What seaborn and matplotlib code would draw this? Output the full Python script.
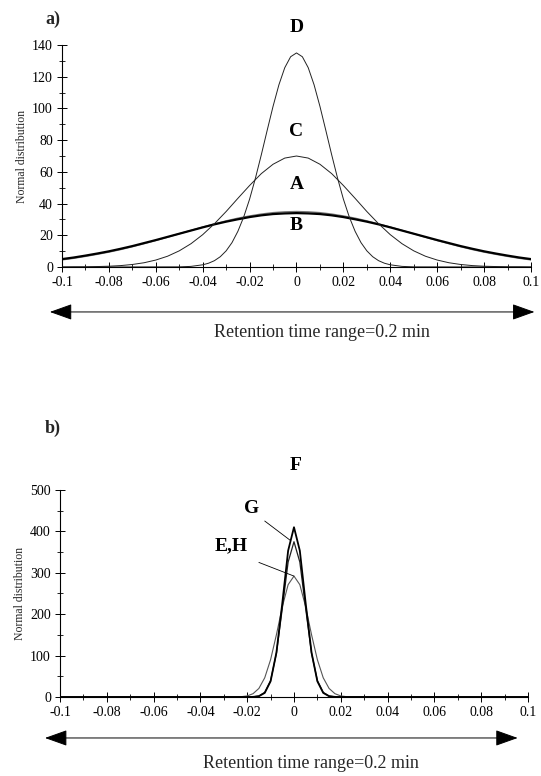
import numpy as np
import pandas as pd
import matplotlib
matplotlib.use("Agg")
import matplotlib.pyplot as plt
from matplotlib.patches import FancyArrowPatch
from matplotlib.ticker import MultipleLocator
import seaborn as sns

# ---------------- data ----------------
# panel a: shared time grid (min) for A, B, C
t_a = [-0.1, -0.095, -0.09, -0.085, -0.08, -0.075, -0.07, -0.065, -0.06, -0.055,
       -0.05, -0.045, -0.04, -0.035, -0.03, -0.025, -0.02, -0.015, -0.01, -0.005,
       0.0, 0.005, 0.01, 0.015, 0.02, 0.025, 0.03, 0.035, 0.04, 0.045,
       0.05, 0.055, 0.06, 0.065, 0.07, 0.075, 0.08, 0.085, 0.09, 0.095, 0.1]
curve_A = [4.5, 5.5, 6.7, 8.0, 9.4, 11.0, 12.8, 14.7, 16.7, 18.8,
           21.0, 23.1, 25.2, 27.2, 29.1, 30.8, 32.2, 33.4, 34.3, 34.8,
           35.0, 34.8, 34.3, 33.4, 32.2, 30.8, 29.1, 27.2, 25.2, 23.1,
           21.0, 18.8, 16.7, 14.7, 12.8, 11.0, 9.4, 8.0, 6.7, 5.5, 4.5]
curve_B = [5.0, 6.0, 7.2, 8.5, 9.9, 11.5, 13.2, 15.1, 17.0, 19.0,
           21.0, 23.0, 25.0, 26.9, 28.6, 30.1, 31.5, 32.6, 33.4, 33.8,
           34.0, 33.8, 33.4, 32.6, 31.5, 30.1, 28.6, 26.9, 25.0, 23.0,
           21.0, 19.0, 17.0, 15.1, 13.2, 11.5, 9.9, 8.5, 7.2, 6.0, 5.0]
curve_C = [0.0, 0.1, 0.1, 0.3, 0.5, 0.9, 1.6, 2.7, 4.4, 6.8,
           10.2, 14.7, 20.4, 27.3, 35.0, 43.3, 51.4, 58.9, 64.8, 68.7,
           70.0, 68.7, 64.8, 58.9, 51.4, 43.3, 35.0, 27.3, 20.4, 14.7,
           10.2, 6.8, 4.4, 2.7, 1.6, 0.9, 0.5, 0.3, 0.1, 0.1, 0.0]
# curve D on a finer grid
t_d = [-0.1, -0.05, -0.045, -0.04, -0.0375, -0.035, -0.0325, -0.03, -0.0275, -0.025,
       -0.0225, -0.02, -0.0175, -0.015, -0.0125, -0.01, -0.0075, -0.005, -0.0025,
       0.0, 0.0025, 0.005, 0.0075, 0.01, 0.0125, 0.015, 0.0175, 0.02, 0.0225,
       0.025, 0.0275, 0.03, 0.0325, 0.035, 0.0375, 0.04, 0.045, 0.05, 0.1]
curve_D = [0.0, 0.1, 0.4, 1.4, 2.4, 4.0, 6.5, 10.2, 15.4, 22.5,
           31.6, 42.8, 56.1, 70.8, 86.2, 101.3, 114.9, 125.7, 132.6,
           135.0, 132.6, 125.7, 114.9, 101.3, 86.2, 70.8, 56.1, 42.8, 31.6,
           22.5, 15.4, 10.2, 6.5, 4.0, 2.4, 1.4, 0.4, 0.1, 0.0]

# panel b
t_b = [-0.1, -0.025, -0.0225, -0.02, -0.0175, -0.015, -0.0125, -0.01, -0.0075, -0.005, -0.0025,
       0.0, 0.0025, 0.005, 0.0075, 0.01, 0.0125, 0.015, 0.0175, 0.02, 0.0225, 0.025, 0.1]
curve_F = [0, 0, 0, 0, 0.3, 1.9, 9.9, 37.9, 107.4, 226.1, 353.3,
           410, 353.3, 226.1, 107.4, 37.9, 9.9, 1.9, 0.3, 0, 0, 0, 0]
curve_G = [0, 0, 0, 0, 0.4, 2.4, 11.2, 39.6, 105.9, 213.8, 325.9,
           375, 325.9, 213.8, 105.9, 39.6, 11.2, 2.4, 0.4, 0, 0, 0, 0]
curve_EH = [0, 0.2, 0.8, 2.6, 8.0, 20.7, 46.4, 90.1, 150.6, 217.6, 271.3,
            292, 271.3, 217.6, 150.6, 90.1, 46.4, 20.7, 8.0, 2.6, 0.8, 0.2, 0]

xticks = [-0.1, -0.08, -0.06, -0.04, -0.02, 0, 0.02, 0.04, 0.06, 0.08, 0.1]
xticklabels = ["-0.1", "-0.08", "-0.06", "-0.04", "-0.02", "0", "0.02", "0.04", "0.06", "0.08", "0.1"]
yticks_a = [0, 20, 40, 60, 80, 100, 120, 140]
yticks_b = [0, 100, 200, 300, 400, 500]

# ---------------- plotting ----------------
sns.set_theme(style="white")
plt.rcParams["font.family"] = ["Liberation Serif", "DejaVu Serif"]

fig = plt.figure(figsize=(5.41, 7.76), dpi=100)
ax_a = fig.add_axes([0.1146, 0.6559, 0.8669, 0.2861])
ax_b = fig.add_axes([0.1109, 0.1018, 0.8650, 0.2668])

df_abc = pd.DataFrame({"t": t_a, "A": curve_A, "B": curve_B, "C": curve_C})
df_d = pd.DataFrame({"t": t_d, "D": curve_D})
sns.lineplot(data=df_abc, x="t", y="A", ax=ax_a, color="#777777", lw=1.0)
sns.lineplot(data=df_abc, x="t", y="B", ax=ax_a, color="black", lw=1.6)
sns.lineplot(data=df_abc, x="t", y="C", ax=ax_a, color="#222222", lw=0.7)
sns.lineplot(data=df_d, x="t", y="D", ax=ax_a, color="#222222", lw=0.7)

df_b = pd.DataFrame({"t": t_b, "F": curve_F, "G": curve_G, "EH": curve_EH})
sns.lineplot(data=df_b, x="t", y="EH", ax=ax_b, color="#555555", lw=0.8)
sns.lineplot(data=df_b, x="t", y="G", ax=ax_b, color="#222222", lw=0.9)
sns.lineplot(data=df_b, x="t", y="F", ax=ax_b, color="black", lw=1.3)

for ax, yt, ymax, yminor in [(ax_a, yticks_a, 140, 10), (ax_b, yticks_b, 500, 50)]:
    ax.set_xlim(-0.1, 0.1)
    ax.set_ylim(0, ymax)
    ax.set_xticks(xticks)
    ax.set_xticklabels(xticklabels)
    ax.set_yticks(yt)
    ax.xaxis.set_minor_locator(MultipleLocator(0.01))
    ax.yaxis.set_minor_locator(MultipleLocator(yminor))
    for s in ["top", "right"]:
        ax.spines[s].set_visible(False)
    for s in ["left", "bottom"]:
        ax.spines[s].set_color("black")
        ax.spines[s].set_linewidth(0.8)
    ax.tick_params(which="major", direction="inout", length=7, width=0.7, colors="black",
                   labelsize=10, pad=3, bottom=True, left=True)
    ax.tick_params(which="minor", direction="inout", length=5, width=0.6, colors="black",
                   bottom=True, left=True)
    ax.set_xlabel("")
    ax.set_ylabel("Normal distribution", fontsize=8.5, labelpad=3)
    ax.grid(False)

# curve labels
bold = dict(fontsize=14, fontweight="bold", ha="center", va="center", color="black")
ax_a.text(0.0, 151, "D", clip_on=False, **bold)
ax_a.text(0.0, 85.5, "C", **bold)
ax_a.text(0.0, 52, "A", **bold)
ax_a.text(0.0, 26, "B", **bold)
ax_b.text(0.0005, 560, "F", clip_on=False, **bold)
ax_b.text(-0.018, 455, "G", **bold)
ax_b.text(-0.027, 365, "E,H", **bold)
ax_b.plot([-0.0125, -0.0015], [425, 378], color="black", lw=0.6)
ax_b.plot([-0.015, 0.0], [325, 292], color="black", lw=0.6)

fig.text(0.083, 0.975, "a)", fontsize=13, fontweight="bold", ha="left", va="center")
fig.text(0.083, 0.448, "b)", fontsize=13, fontweight="bold", ha="left", va="center")

# range arrows
for y, x0, x1 in [(0.598, 0.087, 0.993), (0.049, 0.078, 0.962)]:
    arr = FancyArrowPatch((x0, y), (x1, y), transform=fig.transFigure,
                          arrowstyle="<|-|>,head_length=14,head_width=5",
                          color="black", lw=0.7, mutation_scale=1)
    fig.add_artist(arr)
fig.text(0.595, 0.571, "Retention time range=0.2 min", fontsize=13, ha="center", va="center")
fig.text(0.575, 0.016, "Retention time range=0.2 min", fontsize=13, ha="center", va="center")

fig.savefig("out.png", dpi=100)
